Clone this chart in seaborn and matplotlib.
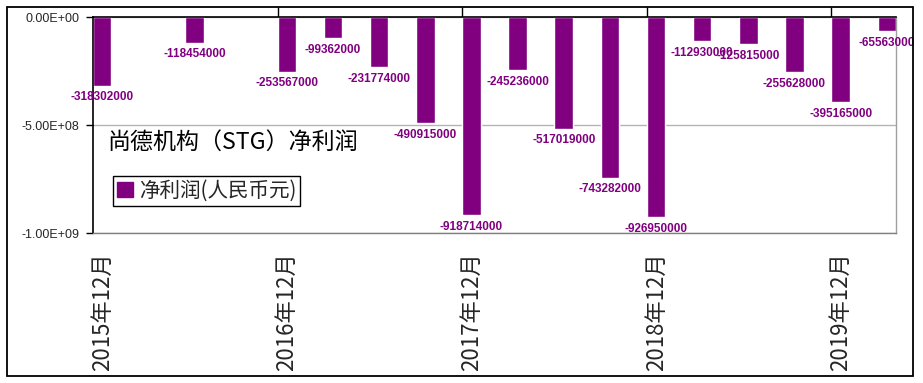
import numpy as np
import pandas as pd
import matplotlib
matplotlib.use("Agg")
import matplotlib.pyplot as plt
import seaborn as sns
from matplotlib.patches import Rectangle, Patch
from matplotlib.ticker import FixedLocator, FixedFormatter, FuncFormatter, NullFormatter

# ---------------- data ----------------
periods = ["2015年12月", "2016年3月", "2016年6月", "2016年9月", "2016年12月",
           "2017年3月", "2017年6月", "2017年9月", "2017年12月",
           "2018年3月", "2018年6月", "2018年9月", "2018年12月",
           "2019年3月", "2019年6月", "2019年9月", "2019年12月", "2020年3月"]
report_periods = ["2015年12月", "2016年6月", "2016年12月",
                  "2017年3月", "2017年6月", "2017年9月", "2017年12月",
                  "2018年3月", "2018年6月", "2018年9月", "2018年12月",
                  "2019年3月", "2019年6月", "2019年9月", "2019年12月", "2020年3月"]
net_profit = [-318302000, -118454000, -253567000,
              -99362000, -231774000, -490915000, -918714000,
              -245236000, -517019000, -743282000, -926950000,
              -112930000, -125815000, -255628000, -395165000, -65563000]
tick_labels = ["2015年12月", "2016年12月", "2017年12月", "2018年12月", "2019年12月"]
y_ticks = [0, -5e8, -1e9]
title = "尚德机构（STG）净利润"
series_name = "净利润(人民币元)"
bar_color = "#800080"

# ---------------- style ----------------
sns.set_style("white")
plt.rcParams["font.family"] = ["Noto Sans CJK SC", "DejaVu Sans"]

W, H = 923, 383
fig = plt.figure(figsize=(W / 100, H / 100), dpi=100)
ax = fig.add_axes([93 / W, 1 - 233 / H, (896 - 93) / W, (233 - 17) / H])

df = pd.DataFrame({"period": report_periods, "value": net_profit})
sns.barplot(data=df, x="period", y="value", order=periods, color=bar_color,
            saturation=1, width=0.4, errorbar=None, label=series_name, ax=ax)

ax.set_xlim(-0.2, len(periods) - 1 + 0.2)
ax.set_ylim(-1e9, 0)
ax.set_xlabel("")
ax.set_ylabel("")

# data labels
for cont in ax.containers:
    ax.bar_label(cont, fmt="%d", padding=4, color=bar_color, fontweight="bold",
                 fontsize=8.5, family=["Liberation Sans Narrow", "Liberation Sans"])

# x ticks: marks on top (between groups), labels at bottom
bound_ticks = [periods.index(l) - 0.2 for l in tick_labels[1:]]
ax.xaxis.set_major_locator(FixedLocator(bound_ticks))
ax.xaxis.set_major_formatter(NullFormatter())
ax.xaxis.set_minor_locator(FixedLocator([periods.index(l) for l in tick_labels]))
ax.xaxis.set_minor_formatter(FixedFormatter(tick_labels))
ax.tick_params(axis="x", which="major", top=True, bottom=False, labeltop=False,
               labelbottom=False, direction="out", length=7, width=1, color="black")
ax.tick_params(axis="x", which="minor", top=False, bottom=True, labeltop=False,
               labelbottom=True, length=0, pad=14, labelrotation=90, labelsize=16)

# y ticks
ax.yaxis.set_major_locator(FixedLocator(y_ticks))
ax.yaxis.set_major_formatter(FuncFormatter(lambda v, p: f"{v:.2E}"))
ax.tick_params(axis="y", which="major", left=True, direction="out", length=5,
               width=1, color="black", labelsize=9, pad=5,
               labelfontfamily="Liberation Sans")

ax.yaxis.grid(True, color="#b4b4b4", lw=1)
ax.xaxis.grid(False)
ax.set_axisbelow(True)

for side, col in [("top", "black"), ("left", "black"), ("right", "#a0a0a0"), ("bottom", "#808080")]:
    ax.spines[side].set_visible(True)
    ax.spines[side].set_color(col)
    ax.spines[side].set_linewidth(1.2 if col == "black" else 1.0)

# title inside plot
fig.text(107 / W, 1 - 142 / H, title, fontsize=16.6, ha="left", va="center", color="black")

# legend
leg = ax.legend(handles=[Patch(facecolor=bar_color, edgecolor=bar_color)], labels=[series_name],
                loc="upper left", bbox_to_anchor=(113 / W, 1 - 176 / H),
                bbox_transform=fig.transFigure, frameon=True, fancybox=False,
                edgecolor="black", framealpha=1, fontsize=14.8, handlelength=0.75,
                handleheight=0.75, borderpad=0.2, handletextpad=0.3, borderaxespad=0)
leg.get_frame().set_linewidth(1)

# outer border
fig.patches.append(Rectangle((7 / W, 1 - 376 / H), (913 - 7) / W, (376 - 7) / H,
                             transform=fig.transFigure, fill=False,
                             edgecolor="black", lw=1.3))

fig.savefig("out.png", dpi=100)
